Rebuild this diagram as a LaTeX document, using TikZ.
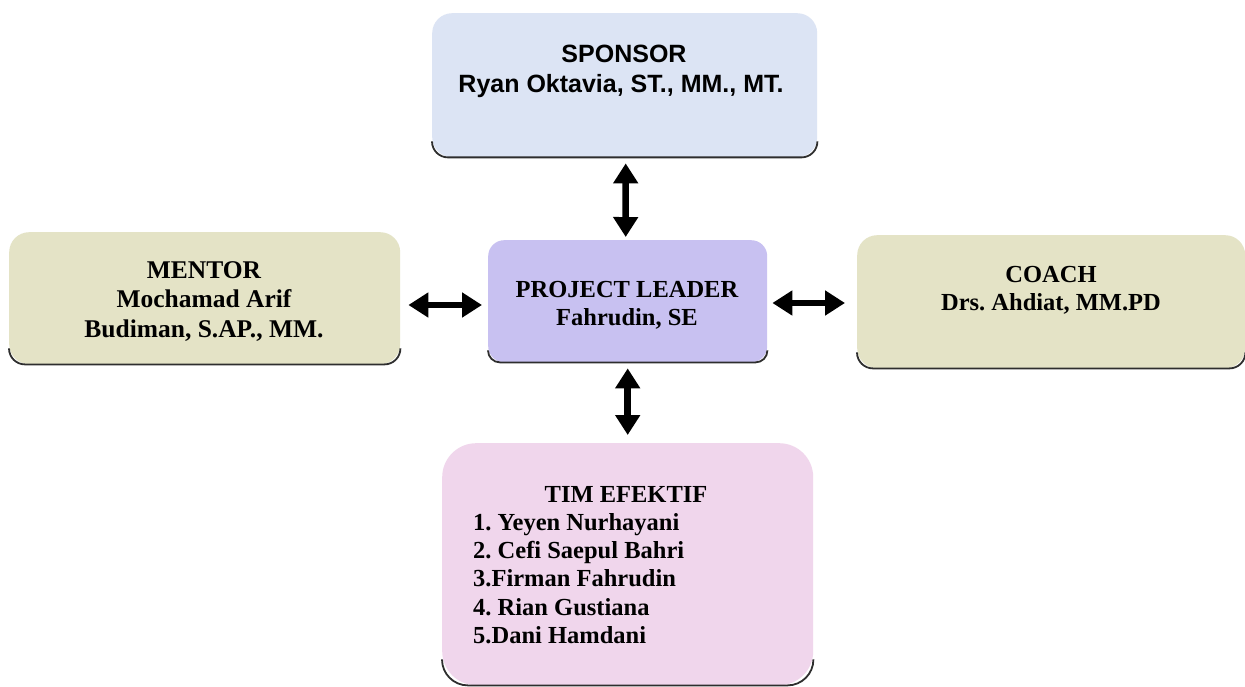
\documentclass[tikz,border=0pt]{standalone}
\usepackage{fontspec}
\setmainfont{Liberation Serif}
\newfontfamily\arialfont{Liberation Sans}
\usetikzlibrary{arrows.meta,calc}
\definecolor{sponsorfill}{HTML}{DCE4F4}
\definecolor{olivefill}{HTML}{E4E3C6}
\definecolor{leaderfill}{HTML}{C8C1F1}
\definecolor{timfill}{HTML}{F0D6EC}
\definecolor{edgecol}{HTML}{2E2E2E}
\tikzset{
  card/.style={rectangle, draw=none, inner sep=0pt, anchor=north west},
  cardtxt/.style={anchor=base, inner sep=0pt, font=\frenchspacing\bfseries\fontsize{24.5bp}{28bp}\selectfont},
  bigtxt/.style={anchor=base, inner sep=0pt, font=\frenchspacing\bfseries\fontsize{25.5bp}{29bp}\selectfont},
  sanstxt/.style={anchor=base, inner sep=0pt, font=\frenchspacing\arialfont\bfseries\fontsize{25bp}{30bp}\selectfont},
  dblarrow/.style={line width=6.5bp, {Triangle[length=20bp,width=24bp]}-{Triangle[length=20bp,width=24bp]}},
}
\newcommand{\bottomedge}[2]{%
  \draw[edgecol, line width=1.8bp, rounded corners=#2]
    ($(#1.south west)+(0,-#2)$) -- (#1.south west) -- (#1.south east) -- ($(#1.south east)+(0,-#2)$);}
\begin{document}
\frenchspacing
\begin{tikzpicture}[x=1bp,y=-1bp]
\useasboundingbox[fill=white] (0,0) rectangle (1245,687);

% boxes
\node[card, fill=sponsorfill, rounded corners=20bp, minimum width=385bp, minimum height=144bp] (sponsor) at (432,13) {};
\node[card, fill=olivefill, rounded corners=20bp, minimum width=391bp, minimum height=132bp] (mentor) at (9,232) {};
\node[card, fill=leaderfill, rounded corners=16bp, minimum width=279bp, minimum height=122bp] (leader) at (488,240) {};
\node[card, fill=olivefill, rounded corners=20bp, minimum width=388bp, minimum height=133bp] (coach) at (857,235) {};
\node[card, fill=timfill, rounded corners=34bp, minimum width=371bp, minimum height=242bp] (tim) at (442,443) {};

\bottomedge{sponsor}{16}
\bottomedge{mentor}{16}
\bottomedge{leader}{12}
\bottomedge{coach}{16}
\bottomedge{tim}{26}

% texts
\node[sanstxt] (sp1) at (624,63) {SPONSOR};
\node[sanstxt] (sp2) at (621,93) {Ryan Oktavia, ST., MM., MT.};

\node[bigtxt] (me1) at (204,278) {MENTOR};
\node[bigtxt] (me2) at (204,307) {Mochamad Arif};
\node[bigtxt] (me3) at (204,337) {Budiman, S.AP., MM.};

\node[cardtxt] (le1) at (627,297) {PROJECT LEADER};
\node[cardtxt] (le2) at (627,325) {Fahrudin, SE};

\node[cardtxt] (co1) at (1051,282) {COACH};
\node[cardtxt] (co2) at (1051,310) {Drs. Ahdiat, MM.PD};

\node[cardtxt] (ti0) at (626,502) {TIM EFEKTIF};
\node[cardtxt, anchor=base west] (ti1) at (473,530) {1. Yeyen Nurhayani};
\node[cardtxt, anchor=base west] (ti2) at (473,558) {2. Cefi Saepul Bahri};
\node[cardtxt, anchor=base west] (ti3) at (473,586) {3.Firman Fahrudin};
\node[cardtxt, anchor=base west] (ti4) at (473,615) {4. Rian Gustiana};
\node[cardtxt, anchor=base west] (ti5) at (473,643) {5.Dani Hamdani};

% connectors
\draw[dblarrow, shorten <=6bp, shorten >=3bp] ($(sponsor.south)+(1,0)$) -- ($(leader.north)+(-2,0)$);
\draw[dblarrow, shorten <=8bp, shorten >=6bp] (mentor.east |- 0,305) -- (leader.west |- 0,305);
\draw[dblarrow, shorten <=5bp, shorten >=12bp] (leader.east |- 0,303) -- (coach.west |- 0,303);
\draw[dblarrow, shorten <=6bp, shorten >=8bp] (leader.south) -- (tim.north -| leader.south);
\end{tikzpicture}
\end{document}
